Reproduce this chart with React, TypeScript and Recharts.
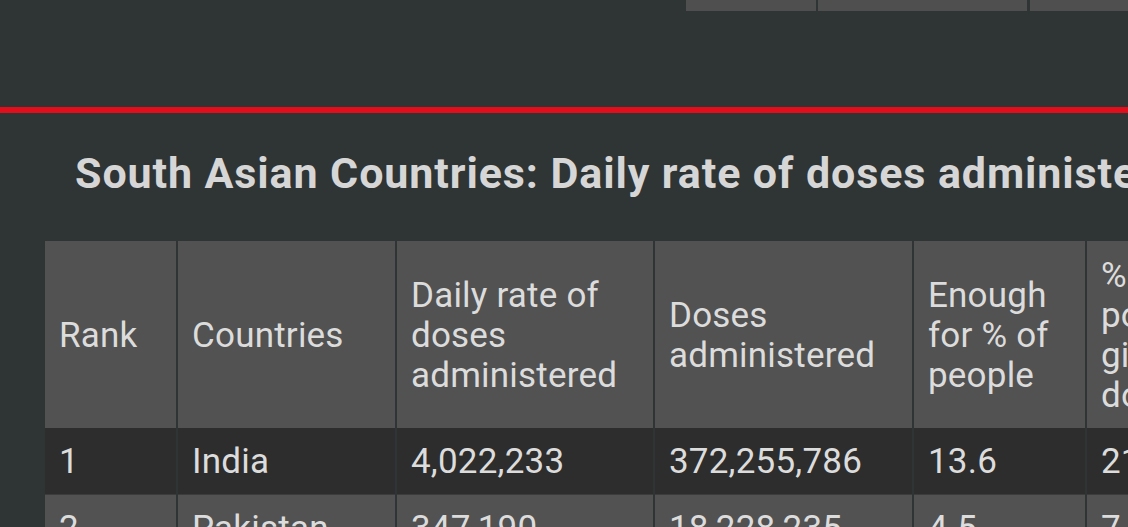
import React from 'react';
import { BarChart, Bar, XAxis, YAxis } from 'recharts';

// ---- content ----
const titleText = 'South Asian Countries: Daily rate of doses administered';
const headerLines: string[][] = [
  ['Rank'],
  ['Countries'],
  ['Daily rate of', 'doses', 'administered'],
  ['Doses', 'administered'],
  ['Enough', 'for % of', 'people'],
  ['% of', 'population', 'given', 'doses'],
];
const ranks = ['1', '2'];
const countries = ['India', 'Pakistan'];
const dailyRate = ['4,022,233', '347,190'];
const dosesAdministered = ['372,255,786', '18,228,235'];
const enoughFor = ['13.6', '4.5'];
const pctGiven = ['21.1', '7.6'];

// ---- layout (column widths in px) ----
const columnWidths = [133, 219, 258, 259, 173, 200];
const colKeys = columnWidths.map((_, i) => `c${i}`);
const totalWidth = columnWidths.reduce((a, b) => a + b, 0);

const bodyColumns = [ranks, countries, dailyRate, dosesAdministered, enoughFor, pctGiven];

const headerData = [
  Object.fromEntries([['row', 0], ...colKeys.map((k, i) => [k, columnWidths[i]])]),
];
const bodyData = countries.map((_, r) =>
  Object.fromEntries([['row', r], ...colKeys.map((k, i) => [k, columnWidths[i]])])
);

const BG = '#2f3435';
const TEXT = '#dcdcdc';
const FONT = 'Roboto, "Noto Sans", sans-serif';

const makeShape = (col: number, isHeader: boolean) => (props: any) => {
  const { x, y, width, height, payload } = props;
  const r = payload && typeof payload.row === 'number' ? payload.row : props.index ?? 0;
  const fill = isHeader ? '#525252' : r % 2 === 0 ? '#2d2d2d' : '#525252';
  const lines = isHeader ? headerLines[col] : [bodyColumns[col][r]];
  const h = isHeader ? height : height - 1;
  const top = y + h / 2 - 20 * lines.length;
  return (
    <g>
      <rect x={x + 1} y={y} width={Math.max(0, width - 2)} height={h} fill={fill} />
      {!isHeader && (
        <rect x={x + 1} y={y + height - 1} width={Math.max(0, width - 2)} height={1} fill="#3c3c3c" />
      )}
      <text x={x + 15} fontFamily={FONT} fontSize={35} fill={TEXT} letterSpacing={0.2}>
        {lines.map((ln, i) => (
          <tspan key={i} x={x + 15} y={top + 40 * i + 32}>
            {ln}
          </tspan>
        ))}
      </text>
    </g>
  );
};

function TableChart({ data, isHeader, height }: { data: any[]; isHeader: boolean; height: number }) {
  return (
    <BarChart
      width={totalWidth}
      height={height}
      data={data}
      layout="vertical"
      margin={{ top: 0, right: 0, bottom: 0, left: 0 }}
      barCategoryGap={0}
      barGap={0}
    >
      <XAxis type="number" hide domain={[0, totalWidth]} />
      <YAxis type="category" dataKey="row" hide />
      {colKeys.map((k, i) => (
        <Bar
          key={k}
          dataKey={k}
          stackId="t"
          isAnimationActive={false}
          shape={makeShape(i, isHeader)}
        />
      ))}
    </BarChart>
  );
}

export default function App() {
  return (
    <div
      style={{
        position: 'fixed',
        left: 0,
        top: 0,
        width: 1128,
        height: 527,
        overflow: 'hidden',
        background: BG,
      }}
    >
      <div style={{ position: 'absolute', left: 686, top: 0, width: 130, height: 11, background: '#4f4f4f' }} />
      <div style={{ position: 'absolute', left: 818, top: 0, width: 209, height: 11, background: '#4f4f4f' }} />
      <div style={{ position: 'absolute', left: 1030, top: 0, width: 120, height: 11, background: '#4f4f4f' }} />
      <div style={{ position: 'absolute', left: 0, top: 107, width: 1128, height: 6, background: '#e30e1c' }} />
      <svg style={{ position: 'absolute', left: 0, top: 140 }} width={1128} height={70}>
        <text x={75} y={48} fontFamily={FONT} fontWeight={700} fontSize={43} letterSpacing={0.9} fill="#d6d6d6">
          {titleText}
        </text>
      </svg>
      <div style={{ position: 'absolute', left: 44, top: 241 }}>
        <TableChart data={headerData} isHeader={true} height={187} />
      </div>
      <div style={{ position: 'absolute', left: 44, top: 428 }}>
        <TableChart data={bodyData} isHeader={false} height={134} />
      </div>
    </div>
  );
}
